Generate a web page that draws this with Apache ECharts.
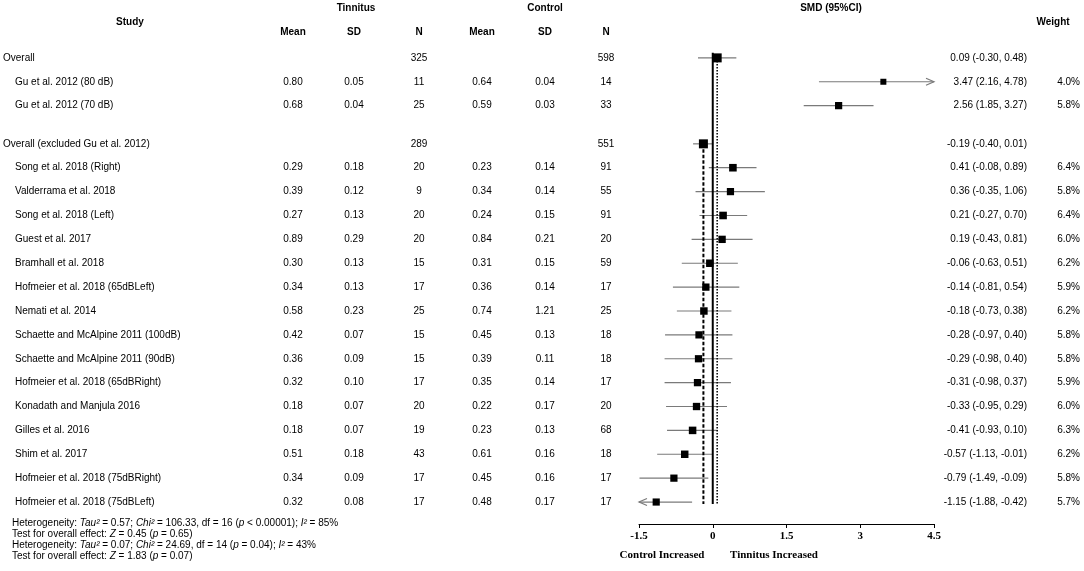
<!DOCTYPE html>
<html>
<head>
<meta charset="utf-8">
<script src="https://cdn.jsdelivr.net/npm/echarts@6/dist/echarts.min.js"></script>
<style>
  html, body { margin: 0; padding: 0; background: #fff; }
  #main { width: 1084px; height: 571px; }
</style>
</head>
<body>
<div id="main"></div>
<script>
// rows, top to bottom
var studyNames = [
    'Overall',
    'Gu et al. 2012 (80 dB)',
    'Gu et al. 2012 (70 dB)',
    'Overall (excluded Gu et al. 2012)',
    'Song et al. 2018 (Right)',
    'Valderrama et al. 2018',
    'Song et al. 2018 (Left)',
    'Guest et al. 2017',
    'Bramhall et al. 2018',
    'Hofmeier et al. 2018 (65dBLeft)',
    'Nemati et al. 2014',
    'Schaette and McAlpine 2011 (100dB)',
    'Schaette and McAlpine 2011 (90dB)',
    'Hofmeier et al. 2018 (65dBRight)',
    'Konadath and Manjula 2016',
    'Gilles et al. 2016',
    'Shim et al. 2017',
    'Hofmeier et al. 2018 (75dBRight)',
    'Hofmeier et al. 2018 (75dBLeft)'
];
var isSummary = [true, false, false, true, false, false, false, false, false, false, false, false, false, false, false, false, false, false, false];

var tinMean = [null, 0.80, 0.68, null, 0.29, 0.39, 0.27, 0.89, 0.30, 0.34, 0.58, 0.42, 0.36, 0.32, 0.18, 0.18, 0.51, 0.34, 0.32];
var tinSD   = [null, 0.05, 0.04, null, 0.18, 0.12, 0.13, 0.29, 0.13, 0.13, 0.23, 0.07, 0.09, 0.10, 0.07, 0.07, 0.18, 0.09, 0.08];
var tinN    = [325, 11, 25, 289, 20, 9, 20, 20, 15, 17, 25, 15, 15, 17, 20, 19, 43, 17, 17];
var ctlMean = [null, 0.64, 0.59, null, 0.23, 0.34, 0.24, 0.84, 0.31, 0.36, 0.74, 0.45, 0.39, 0.35, 0.22, 0.23, 0.61, 0.45, 0.48];
var ctlSD   = [null, 0.04, 0.03, null, 0.14, 0.14, 0.15, 0.21, 0.15, 0.14, 1.21, 0.13, 0.11, 0.14, 0.17, 0.13, 0.16, 0.16, 0.17];
var ctlN    = [598, 14, 33, 551, 91, 55, 91, 20, 59, 17, 25, 18, 18, 17, 20, 68, 18, 17, 17];

var smd    = [0.09, 3.47, 2.56, -0.19, 0.41, 0.36, 0.21, 0.19, -0.06, -0.14, -0.18, -0.28, -0.29, -0.31, -0.33, -0.41, -0.57, -0.79, -1.15];
var ciLow  = [-0.30, 2.16, 1.85, -0.40, -0.08, -0.35, -0.27, -0.43, -0.63, -0.81, -0.73, -0.97, -0.98, -0.98, -0.95, -0.93, -1.13, -1.49, -1.88];
var ciHigh = [0.48, 4.78, 3.27, 0.01, 0.89, 1.06, 0.70, 0.81, 0.51, 0.54, 0.38, 0.40, 0.40, 0.37, 0.29, 0.10, -0.01, -0.09, -0.42];
var weight = [null, 4.0, 5.8, null, 6.4, 5.8, 6.4, 6.0, 6.2, 5.9, 6.2, 5.8, 5.8, 5.9, 6.0, 6.3, 6.2, 5.8, 5.7];

var xMin = -1.5, xMax = 4.5, xStep = 1.5;

var footerLines = [
    'Heterogeneity: {i|Tau²} = 0.57; {i|Chi²} = 106.33, df = 16 ({i|p} < 0.00001); {i|I²} = 85%',
    'Test for overall effect: {i|Z} = 0.45 ({i|p} = 0.65)',
    'Heterogeneity: {i|Tau²} = 0.07; {i|Chi²} = 24.69, df = 14 ({i|p} = 0.04); {i|I²} = 43%',
    'Test for overall effect: {i|Z} = 1.83 ({i|p} = 0.07)'
];

// layout
var FONT = '"Liberation Sans", Arial, sans-serif';
var SERIF = '"Liberation Serif", "Times New Roman", serif';
var cols = { name: 3, indent: 15, tMean: 293, tSD: 354, tN: 419, cMean: 482, cSD: 545, cN: 606, ci: 1027, w: 1080 };

// a little gap before the second summary block
var rowPos = studyNames.map(function (n, i) { return i < 3 ? i : i + 0.6; });
var lastRow = rowPos[rowPos.length - 1];

function fmt(v) { return v == null ? '' : v.toFixed(2); }

var myChart = echarts.init(document.getElementById('main'));

var yAxisBase = { type: 'value', inverse: true, min: -1, max: 19.52, show: false };

function txt(x, y, s, align, bold) {
    return {
        type: 'text',
        x: x, y: y,
        style: {
            text: s,
            textAlign: align,
            textVerticalAlign: 'middle',
            fill: '#000',
            font: (bold ? 'bold ' : '') + '10px ' + FONT
        }
    };
}

// reference lines: null line, overall, overall excluded
var refLines = [
    [0, rowPos[0] - 0.22, lastRow + 0.08, 0],
    [smd[0], rowPos[0], lastRow + 0.08, 1],
    [smd[3], rowPos[3], lastRow + 0.08, 2]
];
var refStyles = [
    { lineWidth: 2, lineDash: null },
    { lineWidth: 1.5, lineDash: [1.5, 1.5] },
    { lineWidth: 2, lineDash: [3.5, 2] }
];

option = {
    animation: false,
    backgroundColor: '#fff',
    grid: [
        { left: 639, right: 150, top: 34, bottom: 47 },
        { left: 0, right: 0, top: 34, bottom: 47 }
    ],
    xAxis: [
        {
            gridIndex: 0,
            type: 'value',
            position: 'bottom',
            min: xMin, max: xMax, interval: xStep,
            axisLine: { show: true, onZero: false, lineStyle: { color: '#000', width: 1 } },
            axisTick: { show: true, length: 4, lineStyle: { color: '#000' } },
            axisLabel: {
                color: '#000', fontFamily: SERIF, fontWeight: 'bold', fontSize: 11, margin: 7,
                formatter: function (v) { return String(v); }
            },
            splitLine: { show: false }
        },
        { gridIndex: 1, type: 'value', min: 0, max: 1084, show: false }
    ],
    yAxis: [
        Object.assign({ gridIndex: 0 }, yAxisBase),
        Object.assign({ gridIndex: 1 }, yAxisBase)
    ],
    graphic: [
        txt(130, 22, 'Study', 'center', true),
        txt(356, 8, 'Tinnitus', 'center', true),
        txt(545, 8, 'Control', 'center', true),
        txt(cols.tMean, 32, 'Mean', 'center', true),
        txt(cols.tSD, 32, 'SD', 'center', true),
        txt(cols.tN, 32, 'N', 'center', true),
        txt(cols.cMean, 32, 'Mean', 'center', true),
        txt(cols.cSD, 32, 'SD', 'center', true),
        txt(cols.cN, 32, 'N', 'center', true),
        txt(831, 8, 'SMD (95%CI)', 'center', true),
        txt(1053, 22, 'Weight', 'center', true),
        {
            type: 'text', x: 662, y: 555,
            style: { text: 'Control Increased', textAlign: 'center', textVerticalAlign: 'middle', fill: '#000', font: 'bold 11px ' + SERIF }
        },
        {
            type: 'text', x: 774, y: 555,
            style: { text: 'Tinnitus Increased', textAlign: 'center', textVerticalAlign: 'middle', fill: '#000', font: 'bold 11px ' + SERIF }
        }
    ].concat(footerLines.map(function (s, i) {
        return {
            type: 'text', x: 12, y: 523 + i * 11,
            style: {
                text: s, textVerticalAlign: 'middle', fill: '#000', font: '10px ' + FONT,
                rich: { i: { fontStyle: 'italic', fontSize: 10, fontFamily: FONT, fill: '#000' } }
            }
        };
    })),
    series: [
        {
            // table columns
            type: 'custom',
            xAxisIndex: 1, yAxisIndex: 1,
            silent: true,
            data: studyNames.map(function (n, i) { return [i, rowPos[i]]; }),
            renderItem: function (params, api) {
                var i = api.value(0);
                var y = api.coord([0, api.value(1)])[1];
                var c = [
                    txt(isSummary[i] ? cols.name : cols.indent, y, studyNames[i], 'left'),
                    txt(cols.tMean, y, fmt(tinMean[i]), 'center'),
                    txt(cols.tSD, y, fmt(tinSD[i]), 'center'),
                    txt(cols.tN, y, String(tinN[i]), 'center'),
                    txt(cols.cMean, y, fmt(ctlMean[i]), 'center'),
                    txt(cols.cSD, y, fmt(ctlSD[i]), 'center'),
                    txt(cols.cN, y, String(ctlN[i]), 'center'),
                    txt(cols.ci, y, smd[i].toFixed(2) + ' (' + ciLow[i].toFixed(2) + ', ' + ciHigh[i].toFixed(2) + ')', 'right')
                ];
                if (weight[i] != null) c.push(txt(cols.w, y, weight[i].toFixed(1) + '%', 'right'));
                return { type: 'group', children: c };
            }
        },
        {
            // confidence intervals, arrows where cut by the axis range
            type: 'custom',
            xAxisIndex: 0, yAxisIndex: 0,
            clip: false,
            silent: true,
            z: 2,
            data: smd.map(function (v, i) { return [ciLow[i], ciHigh[i], rowPos[i]]; }),
            renderItem: function (params, api) {
                var lo = api.value(0), hi = api.value(1), r = api.value(2);
                var a = api.coord([Math.max(lo, xMin), r]);
                var b = api.coord([Math.min(hi, xMax), r]);
                var st = { stroke: '#7a7a7a', lineWidth: 1.2, fill: null };
                var c = [{ type: 'line', shape: { x1: a[0], y1: a[1], x2: b[0], y2: b[1] }, style: st }];
                if (hi > xMax) {
                    c.push({ type: 'polyline', shape: { points: [[b[0] - 8, b[1] - 3.5], [b[0], b[1]], [b[0] - 8, b[1] + 3.5]] }, style: st });
                }
                if (lo < xMin) {
                    c.push({ type: 'polyline', shape: { points: [[a[0] + 8, a[1] - 3.5], [a[0], a[1]], [a[0] + 8, a[1] + 3.5]] }, style: st });
                }
                return { type: 'group', children: c };
            }
        },
        {
            // vertical reference lines
            type: 'custom',
            xAxisIndex: 0, yAxisIndex: 0,
            silent: true,
            z: 3,
            data: refLines,
            renderItem: function (params, api) {
                var a = api.coord([api.value(0), api.value(1)]);
                var b = api.coord([api.value(0), api.value(2)]);
                var s = refStyles[api.value(3)];
                return {
                    type: 'line',
                    shape: { x1: a[0], y1: a[1], x2: b[0], y2: b[1] },
                    style: { stroke: '#000', lineWidth: s.lineWidth, lineDash: s.lineDash }
                };
            }
        },
        {
            // point estimates
            type: 'scatter',
            xAxisIndex: 0, yAxisIndex: 0,
            silent: true,
            z: 4,
            symbol: 'rect',
            symbolSize: function (val) {
                return val[2] == null ? 9 : Math.sqrt(val[2]) * 3;
            },
            itemStyle: { color: '#000', opacity: 1 },
            data: smd.map(function (v, i) { return [v, rowPos[i], weight[i]]; })
        }
    ]
};

myChart.setOption(option);
</script>
</body>
</html>
